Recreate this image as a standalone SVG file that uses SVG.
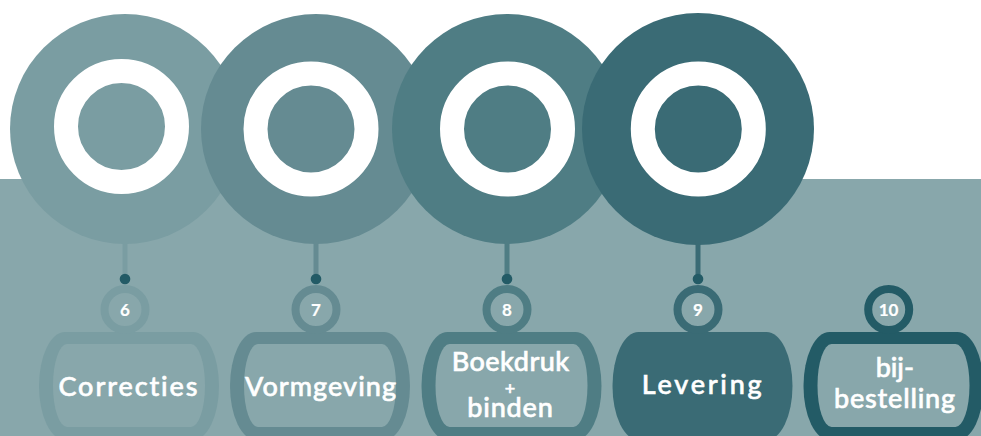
<svg xmlns="http://www.w3.org/2000/svg" width="981" height="436" viewBox="0 0 981 436">
<style>
.ring{fill:none;stroke:#ffffff;stroke-width:24}
.lbl{font-family:Lato,"Liberation Sans",sans-serif;font-weight:500;fill:#ffffff;stroke:#ffffff;stroke-width:0.6;text-anchor:middle;font-variant-ligatures:none}
.big{font-size:27px}
.num{font-size:17px;font-weight:bold;stroke-width:0.2}
.nr{stroke-width:8;fill:#88a7ab}
.bf{fill:#88a7ab}
.dot{fill:#235b66}
</style>
<rect x="0" y="0" width="981" height="436" fill="#ffffff"/>
<rect x="0" y="179" width="981" height="257" fill="#88a7ab"/>

<g id="circle6">
<circle cx="125" cy="129" r="115" fill="#7a9da2"/>
<circle class="ring" cx="121.5" cy="126.5" r="55.5"/>
</g>
<g id="circle7">
<circle cx="316" cy="129" r="115" fill="#658b92"/>
<circle class="ring" cx="311" cy="129" r="55.5"/>
</g>
<g id="circle8">
<circle cx="507" cy="129" r="115" fill="#4f7d84"/>
<circle class="ring" cx="507.5" cy="129" r="55.5"/>
</g>
<g id="circle9">
<circle cx="698" cy="129" r="116" fill="#3a6b75"/>
<circle class="ring" cx="698.3" cy="129" r="55.5"/>
</g>

<g id="connectors">
<line x1="125" y1="240" x2="125" y2="279" stroke="#7a9da2" stroke-width="5"/>
<line x1="316" y1="240" x2="316" y2="279" stroke="#658b92" stroke-width="5"/>
<line x1="507" y1="240" x2="507" y2="279" stroke="#4f7d84" stroke-width="5"/>
<line x1="698" y1="240" x2="698" y2="279" stroke="#3a6b75" stroke-width="5"/>
<circle class="dot" cx="125" cy="279" r="5.3"/>
<circle class="dot" cx="316" cy="279" r="5.3"/>
<circle class="dot" cx="507" cy="279" r="5.3"/>
<circle class="dot" cx="698" cy="279" r="5.3"/>
</g>

<g id="step6">
<rect x="39" y="332" width="180" height="108" rx="26" ry="54" fill="#7a9da2"/>
<rect class="bf" x="53" y="344" width="152" height="83" rx="14" ry="41.5"/>
<circle class="nr" cx="125" cy="309.5" r="20.5" stroke="#7a9da2"/>
<text class="lbl num" x="125" y="316">6</text>
<text class="lbl big" x="128" y="396" textLength="139" lengthAdjust="spacing">Correcties</text>
</g>

<g id="step7">
<rect x="230" y="332" width="180" height="108" rx="26" ry="54" fill="#658b92"/>
<rect class="bf" x="244" y="344" width="152" height="83" rx="14" ry="41.5"/>
<circle class="nr" cx="316" cy="309.5" r="20.5" stroke="#658b92"/>
<text class="lbl num" x="316" y="316">7</text>
<text class="lbl big" x="320.5" y="396" textLength="151" lengthAdjust="spacing">Vormgeving</text>
</g>

<g id="step8">
<rect x="421.5" y="332" width="180" height="108" rx="26" ry="54" fill="#4f7d84"/>
<rect class="bf" x="435.5" y="344" width="152" height="83" rx="14" ry="41.5"/>
<circle class="nr" cx="507" cy="309.5" r="20.5" stroke="#4f7d84"/>
<text class="lbl num" x="507" y="316">8</text>
<text class="lbl big" x="510.5" y="370.5" textLength="117.5" lengthAdjust="spacing">Boekdruk</text>
<text class="lbl" x="510" y="395" font-size="18px">+</text>
<text class="lbl big" x="510" y="416.5" textLength="85.5" lengthAdjust="spacing">binden</text>
</g>

<g id="step9">
<rect x="612.5" y="332" width="180" height="108" rx="26" ry="54" fill="#3a6b75"/>
<circle class="nr" cx="698" cy="309.5" r="20.5" stroke="#3a6b75"/>
<text class="lbl num" x="698" y="316">9</text>
<text class="lbl big" x="701.7" y="394" textLength="120" lengthAdjust="spacing">Levering</text>
</g>

<g id="step10">
<rect x="803.5" y="332" width="180" height="108" rx="26" ry="54" fill="#235b66"/>
<rect class="bf" x="817.5" y="344" width="152" height="83" rx="14" ry="41.5"/>
<circle class="nr" cx="888.7" cy="309.5" r="20.5" stroke="#235b66"/>
<text class="lbl num" x="888.5" y="316">10</text>
<text class="lbl big" x="894.8" y="376.7" textLength="38.3" lengthAdjust="spacing">bij-</text>
<text class="lbl big" x="894.5" y="408.3" textLength="121" lengthAdjust="spacing">bestelling</text>
</g>
</svg>
